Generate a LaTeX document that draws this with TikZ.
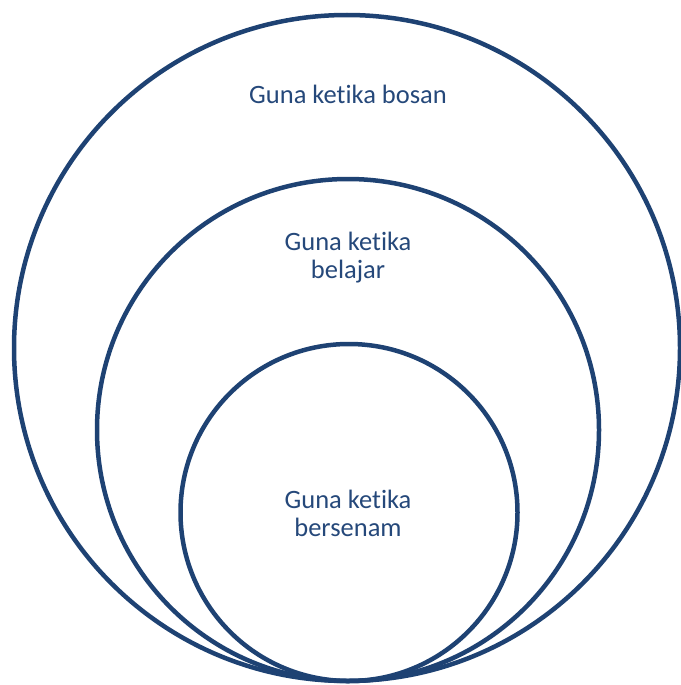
\documentclass[tikz,border=0pt]{standalone}
\usepackage{fontspec}
\setmainfont{Carlito}[Ligatures=NoCommon]
\definecolor{ringblue}{HTML}{1E4273}
\definecolor{textblue}{HTML}{25487A}
\begin{document}
\begin{tikzpicture}[x=1pt,y=-1pt,
  ring/.style={draw=ringblue,line width=4.5pt},
  lbl/.style={text=textblue,font=\fontsize{26.5}{28}\selectfont,align=center,inner sep=0pt,anchor=base}]
\useasboundingbox (0,0) rectangle (680,685);
\draw[ring] (347,348) circle[radius=333];
\draw[ring] (348,430) circle[radius=251];
\draw[ring] (349,512.5) circle[radius=168.5];
\node[lbl] (t1) at (348,103) {Guna ketika bosan};
\node[lbl] (t2) at (348,278) {Guna ketika\\belajar};
\node[lbl] (t3) at (348,536) {Guna ketika\\bersenam};
\end{tikzpicture}
\end{document}
